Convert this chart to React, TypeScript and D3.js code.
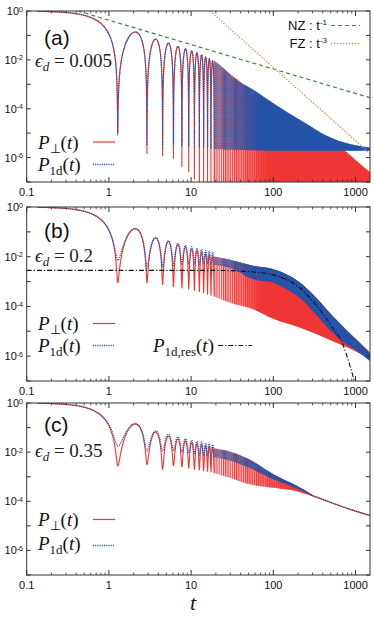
import React from "react";
import * as d3 from "d3";

const WIDTH = 374;
const HEIGHT = 618;
const PLOT_LEFT = 26.7;
const PLOT_RIGHT = 370;
const PANEL_BOUNDS: [number, number][] = [
  [11, 182],
  [207, 381],
  [403, 575],
];

const tDomain: [number, number] = [0.1, 1500];
const pDomain: [number, number] = [1e-7, 1];
const xTickValues = [0.1, 1, 10, 100, 1000];
const xTickLabels = ["0.1", "1", "10", "100", "1000"];
const yMajorExps = [0, -1, -2, -3, -4, -5, -6, -7];
const yLabelExps = [0, -2, -4, -6];

// times of the resolved dips
const dipTimes = [1.28, 2.9, 4.5, 6.1, 7.72, 9.35, 10.97, 12.6, 14.2, 15.85, 17.45, 19.1];

// ---------- panel (a): eps_d = 0.005  (values are log10 P)
const peaksA = [-0.86, -1.15, -1.32, -1.45, -1.55, -1.64, -1.72, -1.8, -1.88, -1.96, -2.04];
const perpDipsA = [-5.1, -5.85, -5.95, -6.05, -6.4, -6.6, -6.9, -7.3, -7.6, -7.8, -8, -8];
const oneDDipsA = [-5.0, -5.5, -5.5, -5.5, -5.55, -5.55, -5.6, -5.6, -5.6, -5.6, -5.65, -5.65];
const perpBandTA = [19.1, 25, 32, 50, 100, 200, 400, 740, 1000, 1500];
const perpBandHiA = [-2.04, -2.35, -2.65, -3.15, -3.85, -4.5, -5.15, -5.72, -6.1, -6.6];
const perpBandLoA = [-8, -8, -8, -8, -8, -8, -8, -8, -8, -8];
const oneDBandTA = [19.1, 25, 32, 56, 100, 210, 530, 1000, 1500];
const oneDBandHiA = [-2.04, -2.35, -2.7, -3.2, -3.78, -4.45, -5.22, -5.5, -5.6];
const oneDBandLoA = [-5.65, -5.67, -5.68, -5.7, -5.72, -5.72, -5.72, -5.72, -5.72];
const nzT = [0.42, 1500];
const nzP = [0, -3.55];
const fzT = [17, 1500];
const fzP = [0, -5.84];

// ---------- panel (b): eps_d = 0.2
const peaksB = [-0.88, -1.25, -1.4, -1.52, -1.62, -1.7, -1.77, -1.83, -1.89, -1.94, -1.99];
const perpDipsB = [-3.05, -3.05, -3.12, -3.2, -3.25, -3.3, -3.35, -3.4, -3.45, -3.5, -3.55, -3.6];
const oneDDipsB = [-2.15, -2.45, -2.4, -2.35, -2.33, -2.32, -2.3, -2.3, -2.3, -2.3, -2.3, -2.32];
const perpBandTB = [19.1, 30, 56, 100, 210, 300, 530, 800, 1000, 1500];
const perpBandHiB = [-1.99, -2.12, -2.36, -2.5, -3.04, -3.5, -4.4, -5.0, -5.3, -5.85];
const perpBandLoB = [-3.6, -3.85, -4.1, -4.5, -4.85, -5.05, -5.4, -5.65, -5.8, -6.1];
const oneDBandTB = [19.1, 30, 56, 100, 170, 210, 300, 530, 800, 1000, 1500];
const oneDBandHiB = [-1.99, -2.12, -2.36, -2.5, -2.83, -3.04, -3.5, -4.4, -5.0, -5.3, -5.9];
const oneDBandLoB = [-2.32, -2.45, -2.9, -3.05, -3.45, -3.65, -4.17, -5.07, -5.55, -5.75, -6.2];
const resT = [0.1, 20, 50, 100, 170, 210, 300, 530, 700, 850, 1000, 1100];
const resP = [-2.55, -2.55, -2.6, -2.73, -3.04, -3.25, -3.78, -4.87, -5.53, -6.35, -7.2, -7.8];

// ---------- panel (c): eps_d = 0.35
const peaksC = [-0.87, -1.2, -1.37, -1.5, -1.58, -1.65, -1.7, -1.74, -1.78, -1.81, -1.84];
const perpDipsC = [-2.56, -2.5, -2.7, -2.55, -2.6, -2.65, -2.7, -2.72, -2.75, -2.78, -2.8, -2.85];
const oneDDipsC = [-1.75, -1.95, -1.95, -1.95, -2.0, -2.05, -2.1, -2.12, -2.15, -2.18, -2.2, -2.22];
const perpBandTC = [19.1, 30, 50, 100, 200, 300];
const perpBandHiC = [-1.84, -1.98, -2.28, -2.9, -3.4, -3.74];
const perpBandLoC = [-2.85, -3.05, -3.3, -3.45, -3.6, -3.8];
const oneDBandTC = [19.1, 30, 50, 100, 200, 300];
const oneDBandHiC = [-1.84, -1.98, -2.28, -2.9, -3.4, -3.74];
const oneDBandLoC = [-2.22, -2.35, -2.63, -3.1, -3.5, -3.8];
const tailTC = [300, 500, 1000, 1500];
const tailPC = [-3.77, -4.05, -4.4, -4.58];

const RED = "#f03535";
const BLUE = "#2453a8";
const SANS = "'Liberation Sans', Arial, Helvetica, sans-serif";
const SERIF = "'Liberation Serif', 'Times New Roman', serif";

type Band = { t: number[]; hi: number[]; lo: number[]; fadeEnd: number };
type PanelCfg = {
  id: string;
  peaks: number[];
  perpDips: number[];
  oneDDips: number[];
  perpBand: Band;
  oneDBand: Band;
};

const panels: PanelCfg[] = [
  {
    id: "a",
    peaks: peaksA,
    perpDips: perpDipsA,
    oneDDips: oneDDipsA,
    perpBand: { t: perpBandTA, hi: perpBandHiA, lo: perpBandLoA, fadeEnd: 85 },
    oneDBand: { t: oneDBandTA, hi: oneDBandHiA, lo: oneDBandLoA, fadeEnd: 70 },
  },
  {
    id: "b",
    peaks: peaksB,
    perpDips: perpDipsB,
    oneDDips: oneDDipsB,
    perpBand: { t: perpBandTB, hi: perpBandHiB, lo: perpBandLoB, fadeEnd: 70 },
    oneDBand: { t: oneDBandTB, hi: oneDBandHiB, lo: oneDBandLoB, fadeEnd: 60 },
  },
  {
    id: "c",
    peaks: peaksC,
    perpDips: perpDipsC,
    oneDDips: oneDDipsC,
    perpBand: { t: perpBandTC, hi: perpBandHiC, lo: perpBandLoC, fadeEnd: 160 },
    oneDBand: { t: oneDBandTC, hi: oneDBandHiC, lo: oneDBandLoC, fadeEnd: 120 },
  },
];

// build the resolved oscillation (arches between read dips, with read peak heights)
function oscillation(peaks: number[], dips: number[]): [number, number][] {
  const segs: { t0: number; t1: number; A: number; m0: number; m1: number }[] = [
    { t0: -dipTimes[0], t1: dipTimes[0], A: 1, m0: dips[0], m1: dips[0] },
  ];
  for (let k = 0; k < peaks.length; k++) {
    segs.push({ t0: dipTimes[k], t1: dipTimes[k + 1], A: Math.pow(10, peaks[k]), m0: dips[k], m1: dips[k + 1] });
  }
  const pts: [number, number][] = [];
  const N = 60;
  for (const s of segs) {
    for (let i = 0; i <= N; i++) {
      const f = (1 - Math.cos((Math.PI * i) / N)) / 2;
      const t = s.t0 + f * (s.t1 - s.t0);
      if (t < tDomain[0]) continue;
      const floor = Math.pow(10, s.m0 * (1 - f) + s.m1 * f);
      const p = s.A * Math.pow(Math.sin(Math.PI * f), 2) + floor;
      pts.push([t, p]);
    }
  }
  return pts;
}

function Panel({ cfg, top, bottom }: { cfg: PanelCfg; top: number; bottom: number }) {
  const x = d3.scaleLog().domain(tDomain).range([PLOT_LEFT, PLOT_RIGHT]);
  const y = d3.scaleLog().domain(pDomain).range([bottom, top]);
  const line = d3
    .line<[number, number]>()
    .x((d) => x(d[0]))
    .y((d) => y(d[1]));
  const smooth = d3
    .line<[number, number]>()
    .x((d) => x(d[0]))
    .y((d) => y(d[1]))
    .curve(d3.curveMonotoneX);
  const bandPath = (b: Band) =>
    d3
      .area<number>()
      .x((i) => x(b.t[i]))
      .y0((i) => y(Math.pow(10, b.lo[i])))
      .y1((i) => y(Math.pow(10, b.hi[i])))
      .curve(d3.curveMonotoneX)(b.t.map((_, i) => i)) || "";
  const toPts = (ts: number[], es: number[]): [number, number][] => ts.map((t, i) => [t, Math.pow(10, es[i])]);

  const perpOsc = oscillation(cfg.peaks, cfg.perpDips);
  const oneDOsc = oscillation(cfg.peaks, cfg.oneDDips);
  const clipId = `clip-${cfg.id}`;
  const gx0 = x(dipTimes[dipTimes.length - 1]);

  const xMinor: number[] = [];
  for (let e = -1; e <= 3; e++) {
    for (let k = 2; k <= 9; k++) {
      const v = k * Math.pow(10, e);
      if (v < tDomain[1]) xMinor.push(v);
    }
  }
  const perpD = bandPath(cfg.perpBand);
  const oneDD = bandPath(cfg.oneDBand);

  return (
    <g>
      <defs>
        <clipPath id={clipId}>
          <rect x={PLOT_LEFT} y={top} width={PLOT_RIGHT - PLOT_LEFT} height={bottom - top} />
        </clipPath>
        <pattern id={`pr-${cfg.id}`} patternUnits="userSpaceOnUse" x={gx0} y={0} width={2.2} height={4}>
          <rect x={0} y={0} width={1.1} height={4} fill={RED} />
        </pattern>
        <pattern id={`pb-${cfg.id}`} patternUnits="userSpaceOnUse" x={gx0 + 1.1} y={0} width={2.2} height={2.2}>
          <rect x={0} y={0} width={1.2} height={1.1} fill={BLUE} />
          <rect x={0} y={1.1} width={1.2} height={1.1} fill={BLUE} fillOpacity={0.75} />
        </pattern>
        <linearGradient id={`gr-${cfg.id}`} gradientUnits="userSpaceOnUse" x1={gx0} x2={x(cfg.perpBand.fadeEnd)} y1={0} y2={0}>
          <stop offset="0" stopColor={RED} stopOpacity={0} />
          <stop offset="1" stopColor={RED} stopOpacity={1} />
        </linearGradient>
        <linearGradient id={`gb-${cfg.id}`} gradientUnits="userSpaceOnUse" x1={gx0} x2={x(cfg.oneDBand.fadeEnd)} y1={0} y2={0}>
          <stop offset="0" stopColor={BLUE} stopOpacity={0.1} />
          <stop offset="1" stopColor={BLUE} stopOpacity={1} />
        </linearGradient>
      </defs>
      <g clipPath={`url(#${clipId})`}>
        <path d={perpD} fill={`url(#pr-${cfg.id})`} />
        <path d={perpD} fill={`url(#gr-${cfg.id})`} />
        <path d={line(perpOsc) || ""} fill="none" stroke={RED} strokeWidth={1.1} />
        <path d={oneDD} fill={`url(#pb-${cfg.id})`} />
        <path d={oneDD} fill={`url(#gb-${cfg.id})`} />
        <path d={line(oneDOsc) || ""} fill="none" stroke={BLUE} strokeWidth={1.3} strokeDasharray="1.1 1.1" />
        {cfg.id === "a" && (
          <>
            <path d={line(toPts(nzT, nzP)) || ""} fill="none" stroke="#3b8a3e" strokeWidth={1.2} strokeDasharray="4 3" />
            <path d={line(toPts(fzT, fzP)) || ""} fill="none" stroke="#f28a3c" strokeWidth={1.3} strokeDasharray="1.3 1.7" />
          </>
        )}
        {cfg.id === "b" && (
          <path d={smooth(toPts(resT, resP)) || ""} fill="none" stroke="#111" strokeWidth={1.1} strokeDasharray="5 2 1.2 2" />
        )}
        {cfg.id === "c" && (
          <>
            <path d={smooth(toPts(tailTC, tailPC)) || ""} fill="none" stroke={RED} strokeWidth={1.3} />
            <path d={smooth(toPts(tailTC, tailPC)) || ""} fill="none" stroke={BLUE} strokeWidth={1.4} strokeDasharray="1.1 1.1" />
          </>
        )}
      </g>
      {/* frame */}
      <rect x={PLOT_LEFT} y={top} width={PLOT_RIGHT - PLOT_LEFT} height={bottom - top} fill="none" stroke="#333" strokeWidth={1} />
      {/* x ticks */}
      {xTickValues.map((v) => (
        <g key={`xm${v}`}>
          <line x1={x(v)} x2={x(v)} y1={bottom} y2={bottom - 5} stroke="#333" />
          <line x1={x(v)} x2={x(v)} y1={top} y2={top + 5} stroke="#333" />
        </g>
      ))}
      {xMinor.map((v) => (
        <g key={`xn${v}`}>
          <line x1={x(v)} x2={x(v)} y1={bottom} y2={bottom - 2.5} stroke="#333" strokeWidth={0.8} />
          <line x1={x(v)} x2={x(v)} y1={top} y2={top + 2.5} stroke="#333" strokeWidth={0.8} />
        </g>
      ))}
      {xTickValues.map((v, i) => (
        <text key={`xl${v}`} x={x(v)} y={bottom + 14} fontFamily={SANS} fontSize={11} textAnchor="middle" fill="#111">
          {xTickLabels[i]}
        </text>
      ))}
      {/* y ticks */}
      {yMajorExps.map((e) => (
        <g key={`ym${e}`}>
          <line x1={PLOT_LEFT} x2={PLOT_LEFT + 4} y1={y(Math.pow(10, e))} y2={y(Math.pow(10, e))} stroke="#333" />
          <line x1={PLOT_RIGHT} x2={PLOT_RIGHT - 4} y1={y(Math.pow(10, e))} y2={y(Math.pow(10, e))} stroke="#333" />
        </g>
      ))}
      {yLabelExps.map((e) => (
        <text key={`yl${e}`} x={23} y={y(Math.pow(10, e)) + 4} fontFamily={SANS} fontSize={11} textAnchor="end" fill="#111">
          10
          <tspan dy={-3.5} fontSize={7}>
            {e === 0 ? "0" : `-${-e}`}
          </tspan>
        </text>
      ))}
    </g>
  );
}

function Sub({ children, size = 12, italic = false }: { children: React.ReactNode; size?: number; italic?: boolean }) {
  return (
    <tspan dy={4} fontSize={size} fontStyle={italic ? "italic" : "normal"}>
      {children}
    </tspan>
  );
}

function LegendPerp({ x, y }: { x: number; y: number }) {
  return (
    <text x={x} y={y} fontFamily={SERIF} fontSize={19} fill="#111">
      <tspan fontStyle="italic">P</tspan>
      <Sub size={13}>⊥</Sub>
      <tspan dy={-4}>(</tspan>
      <tspan fontStyle="italic">t</tspan>
      <tspan>)</tspan>
    </text>
  );
}

function Legend1d({ x, y, res = false }: { x: number; y: number; res?: boolean }) {
  return (
    <text x={x} y={y} fontFamily={SERIF} fontSize={19} fill="#111">
      <tspan fontStyle="italic">P</tspan>
      <Sub size={13}>{res ? "1d,res" : "1d"}</Sub>
      <tspan dy={-4}>(</tspan>
      <tspan fontStyle="italic">t</tspan>
      <tspan>)</tspan>
    </text>
  );
}

function EpsLabel({ x, y, value }: { x: number; y: number; value: string }) {
  return (
    <text x={x} y={y} fontFamily={SERIF} fontSize={19} fill="#222">
      <tspan fontStyle="italic">ϵ</tspan>
      <Sub size={13} italic>
        d
      </Sub>
      <tspan dy={-4}>{` = ${value}`}</tspan>
    </text>
  );
}

export default function App() {
  return (
    <div style={{ position: "absolute", left: 0, top: 0 }}>
      <svg width={WIDTH} height={HEIGHT} style={{ display: "block", background: "#fff" }}>
        {panels.map((p, i) => (
          <Panel key={p.id} cfg={p} top={PANEL_BOUNDS[i][0]} bottom={PANEL_BOUNDS[i][1]} />
        ))}

        {/* panel (a) annotations */}
        <text x={44} y={45} fontFamily={SANS} fontSize={21} fill="#111">(a)</text>
        <EpsLabel x={35} y={67} value="0.005" />
        <LegendPerp x={38} y={149} />
        <line x1={93} x2={115} y1={142} y2={142} stroke={RED} strokeWidth={1.2} />
        <Legend1d x={38} y={171} />
        <line x1={93} x2={115} y1={164.5} y2={164.5} stroke={BLUE} strokeWidth={1.3} strokeDasharray="1.1 1.1" />
        <text x={327} y={30} fontFamily={SANS} fontSize={13} textAnchor="end" fill="#111">
          NZ : t<tspan dy={-5} fontSize={8}>-1</tspan>
        </text>
        <line x1={331} x2={360} y1={25.5} y2={25.5} stroke="#3b8a3e" strokeWidth={1.2} strokeDasharray="4 3" />
        <text x={327} y={48} fontFamily={SANS} fontSize={13} textAnchor="end" fill="#111">
          FZ : t<tspan dy={-5} fontSize={8}>-3</tspan>
        </text>
        <line x1={331} x2={360} y1={43.5} y2={43.5} stroke="#f28a3c" strokeWidth={1.3} strokeDasharray="1.3 1.7" />

        {/* panel (b) annotations */}
        <text x={44} y={238} fontFamily={SANS} fontSize={21} fill="#111">(b)</text>
        <EpsLabel x={35} y={262} value="0.2" />
        <LegendPerp x={38} y={330} />
        <line x1={93} x2={115} y1={323.5} y2={323.5} stroke={RED} strokeWidth={1.2} />
        <Legend1d x={38} y={352} />
        <line x1={93} x2={115} y1={345.5} y2={345.5} stroke={BLUE} strokeWidth={1.3} strokeDasharray="1.1 1.1" />
        <Legend1d x={153} y={352} res />
        <line x1={218} x2={252} y1={345.5} y2={345.5} stroke="#111" strokeWidth={1.1} strokeDasharray="5 2 1.2 2" />

        {/* panel (c) annotations */}
        <text x={44} y={432} fontFamily={SANS} fontSize={21} fill="#111">(c)</text>
        <EpsLabel x={35} y={457} value="0.35" />
        <LegendPerp x={38} y={526} />
        <line x1={93} x2={115} y1={519.5} y2={519.5} stroke={RED} strokeWidth={1.2} />
        <Legend1d x={38} y={550} />
        <line x1={93} x2={115} y1={545.5} y2={545.5} stroke={BLUE} strokeWidth={1.3} strokeDasharray="1.1 1.1" />

        <text x={193} y={610} fontFamily={SERIF} fontSize={22} fontStyle="italic" textAnchor="middle" fill="#111">
          t
        </text>
      </svg>
    </div>
  );
}
